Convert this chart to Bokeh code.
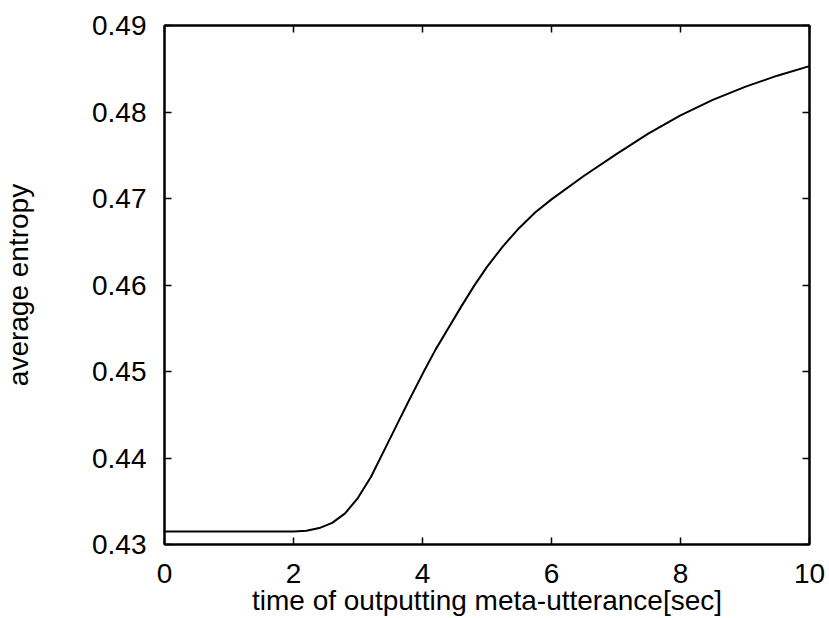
from bokeh.plotting import figure
from bokeh.models import LinearAxis, FixedTicker, Range1d
from bokeh.embed import file_html
from bokeh.resources import INLINE

# data
time_sec = [0.0, 1.0, 2.0, 2.2, 2.4, 2.6, 2.8, 3.0, 3.2, 3.4, 3.6, 3.8, 4.0,
            4.2, 4.4, 4.6, 4.8, 5.0, 5.25, 5.5, 5.75, 6.0, 6.5, 7.0, 7.5,
            8.0, 8.5, 9.0, 9.5, 10.0]
avg_entropy = [0.4315, 0.4315, 0.4315, 0.4316, 0.4319, 0.4325, 0.4336, 0.4354,
               0.4378, 0.4408, 0.4438, 0.4468, 0.4497, 0.4525, 0.4550, 0.4575,
               0.4599, 0.4621, 0.4645, 0.4666, 0.4684, 0.4699, 0.4726, 0.4751,
               0.4775, 0.4796, 0.4814, 0.4829, 0.4842, 0.4853]
x_ticks = [0, 2, 4, 6, 8, 10]
y_ticks = [0.43, 0.44, 0.45, 0.46, 0.47, 0.48, 0.49]
x_label = "time of outputting meta-utterance[sec]"
y_label = "average entropy"

FONT = "Liberation Sans"
FS = "28px"

p = figure(width=829, height=618, output_backend="svg", toolbar_location=None,
           x_range=Range1d(0, 10), y_range=Range1d(0.43, 0.49),
           min_border_left=163, min_border_right=20, min_border_top=25,
           min_border_bottom=73)
p.grid.visible = False
p.outline_line_color = "black"
p.outline_line_width = 2
p.background_fill_color = "white"
p.border_fill_color = "white"

p.line(time_sec, avg_entropy, line_color="black", line_width=2)

for ax in (p.xaxis[0], p.yaxis[0]):
    ax.major_tick_in = 7
    ax.major_tick_out = 0
    ax.minor_tick_in = 0
    ax.minor_tick_out = 0
    ax.major_tick_line_width = 1.5
    ax.axis_line_width = 2
    ax.major_label_text_font = FONT
    ax.major_label_text_font_size = FS
    ax.axis_label_text_font = FONT
    ax.axis_label_text_font_size = FS
    ax.axis_label_text_font_style = "normal"
    ax.axis_label_text_color = "black"
    ax.major_label_text_color = "black"

p.xaxis[0].ticker = FixedTicker(ticks=x_ticks)
p.yaxis[0].ticker = FixedTicker(ticks=y_ticks)
p.xaxis[0].axis_label = x_label
p.yaxis[0].axis_label = y_label
p.xaxis[0].major_label_standoff = 19
p.xaxis[0].axis_label_standoff = -1
p.yaxis[0].major_label_standoff = 18
p.yaxis[0].axis_label_standoff = 55
p.yaxis[0].formatter.use_scientific = False

top = LinearAxis(ticker=FixedTicker(ticks=x_ticks), major_label_text_font_size="0px",
                 major_tick_in=7, major_tick_out=0, minor_tick_in=0, minor_tick_out=0,
                 major_tick_line_width=1.5, axis_line_width=2, major_label_standoff=0)
right = LinearAxis(ticker=FixedTicker(ticks=y_ticks), major_label_text_font_size="0px",
                   major_tick_in=7, major_tick_out=0, minor_tick_in=0, minor_tick_out=0,
                   major_tick_line_width=1.5, axis_line_width=2, major_label_standoff=0)
p.add_layout(top, "above")
p.add_layout(right, "right")

open("out.html", "w").write(file_html(p, INLINE))
